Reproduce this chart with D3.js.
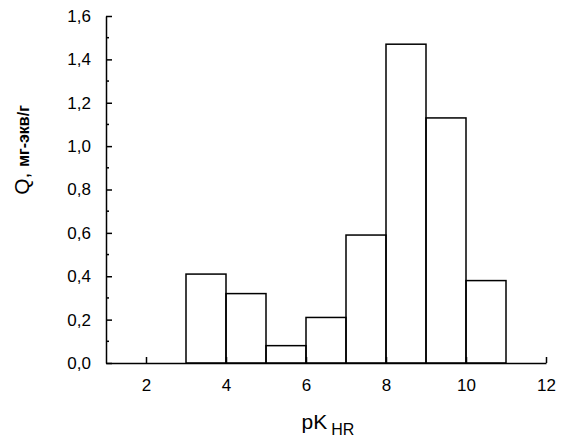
<!DOCTYPE html>
<html>
<head>
<meta charset="utf-8">
<script src="https://cdn.jsdelivr.net/npm/d3@7"></script>
<style>
  body { margin: 0; background: #fff; }
  svg { display: block; font-family: Arial, "Liberation Sans", sans-serif; }
</style>
</head>
<body>
<div id="chart"></div>
<script>
const binStarts = [3, 4, 5, 6, 7, 8, 9, 10];
const binWidth = 1;
const qValues = [0.41, 0.32, 0.08, 0.21, 0.59, 1.47, 1.13, 0.38];
const xTicks = [2, 4, 6, 8, 10, 12];
const yTicks = [0, 0.2, 0.4, 0.6, 0.8, 1.0, 1.2, 1.4, 1.6];
const yMinor = d3.range(0.1, 1.6, 0.2);

const width = 568, height = 438;
const margin = { top: 16, right: 22, bottom: 75, left: 106 };
const innerW = width - margin.left - margin.right;
const innerH = height - margin.top - margin.bottom;

const svg = d3.select('#chart').append('svg')
  .attr('width', width).attr('height', height);
const g = svg.append('g').attr('transform', `translate(${margin.left},${margin.top})`);

const x = d3.scaleLinear().domain([1, 12]).range([0, innerW]);
const y = d3.scaleLinear().domain([0, 1.6]).range([innerH, 0]);

const fmt = v => d3.format('.1f')(v).replace('.', ',');

// bars
g.selectAll('rect.bar').data(binStarts).join('rect')
  .attr('class', 'bar')
  .attr('x', d => x(d))
  .attr('width', x(binWidth + 1) - x(1))
  .attr('y', (d, i) => y(qValues[i]))
  .attr('height', (d, i) => innerH - y(qValues[i]))
  .attr('fill', 'none').attr('stroke', '#000').attr('stroke-width', 1.5);

// x axis (ticks inward)
const xAxisG = g.append('g').attr('transform', `translate(0,${innerH})`)
  .call(d3.axisBottom(x).tickValues(xTicks).tickSizeInner(-6).tickSizeOuter(0).tickPadding(16).tickFormat(d3.format('d')));
xAxisG.select('.domain').attr('stroke-width', 1.5);
xAxisG.selectAll('.tick line').attr('stroke-width', 1.5);
xAxisG.selectAll('text').attr('font-size', 17).attr('fill', '#000');

// y axis (ticks inward)
const yAxisG = g.append('g')
  .call(d3.axisLeft(y).tickValues(yTicks).tickSizeInner(-6).tickSizeOuter(0).tickPadding(15).tickFormat(fmt));
yAxisG.select('.domain').attr('stroke-width', 1.5);
yAxisG.selectAll('.tick line').attr('stroke-width', 1.5);
yAxisG.selectAll('text').attr('font-size', 17).attr('fill', '#000');

g.append('g').selectAll('line').data(yMinor).join('line')
  .attr('x1', 0).attr('x2', 3)
  .attr('y1', d => y(d)).attr('y2', d => y(d))
  .attr('stroke', '#000').attr('stroke-width', 1.5);

// axis titles
const xt = svg.append('text')
  .attr('x', margin.left + x(6.55)).attr('y', 429)
  .attr('text-anchor', 'middle').attr('font-size', 21).attr('fill', '#000');
xt.append('tspan').text('pK');
xt.append('tspan').attr('dx', 4).attr('dy', 6).attr('font-size', 16).text('HR');

const yt = svg.append('text')
  .attr('transform', `translate(29,150) rotate(-90)`)
  .attr('text-anchor', 'middle').attr('font-size', 21).attr('fill', '#000');
yt.append('tspan').text('Q, ');
yt.append('tspan').attr('font-size', 16).attr('font-weight', 'bold').text('мг-экв/г');
</script>
</body>
</html>
